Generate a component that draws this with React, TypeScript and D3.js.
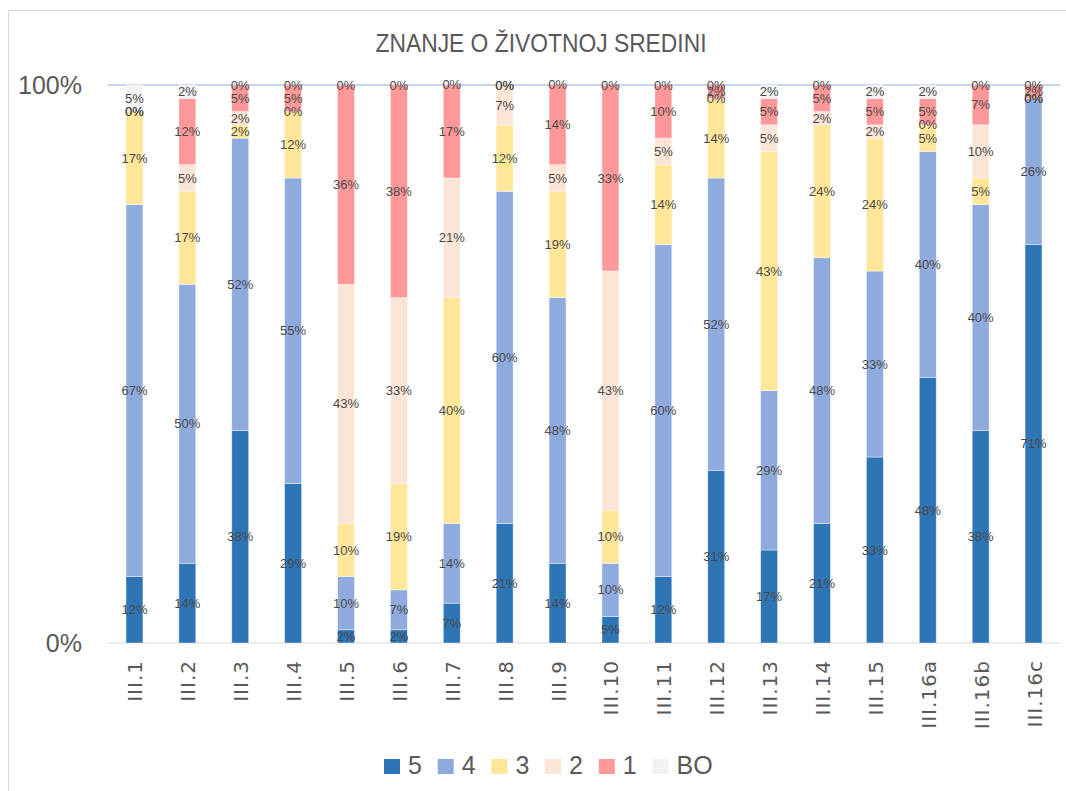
import React from 'react';
import * as d3 from 'd3';

// categories on the x axis
const categories = ['III.1', 'III.2', 'III.3', 'III.4', 'III.5', 'III.6', 'III.7', 'III.8', 'III.9',
  'III.10', 'III.11', 'III.12', 'III.13', 'III.14', 'III.15', 'III.16a', 'III.16b', 'III.16c'];

// share of answers per grade, in percent
const grade5 = [11.90, 14.29, 38.10, 28.57, 2.38, 2.38, 7.14, 21.43, 14.29, 4.76, 11.90, 30.95, 16.67, 21.43, 33.33, 47.62, 38.10, 71.43];
const grade4 = [66.67, 50.00, 52.38, 54.76, 9.52, 7.14, 14.29, 59.52, 47.62, 9.52, 59.52, 52.38, 28.57, 47.62, 33.33, 40.48, 40.48, 26.19];
const grade3 = [16.67, 16.67, 2.38, 11.90, 9.52, 19.05, 40.48, 11.90, 19.05, 9.52, 14.29, 14.29, 42.86, 23.81, 23.81, 4.76, 4.76, 0];
const grade2 = [0, 4.76, 2.38, 0, 42.86, 33.33, 21.43, 7.14, 4.76, 42.86, 4.76, 0, 4.76, 2.38, 2.38, 0, 9.52, 0];
const grade1 = [0, 11.90, 4.76, 4.76, 35.71, 38.10, 16.67, 0, 14.29, 33.33, 9.52, 2.38, 4.76, 4.76, 4.76, 4.76, 7.14, 2.38];
const gradeBO = [4.76, 2.38, 0, 0, 0, 0, 0, 0, 0, 0, 0, 0, 2.38, 0, 2.38, 2.38, 0, 0];

const seriesKeys = ['5', '4', '3', '2', '1', 'BO'];
const seriesValues = [grade5, grade4, grade3, grade2, grade1, gradeBO];
const colors = ['#2E75B6', '#8FAADC', '#FFE699', '#FBE5D6', '#FF9999', '#F2F2F2'];

const yTickLabels = ['0%', '100%'];

export default function App() {
  const W = 1066;
  const H = 791;
  const left = 108;
  const right = 1060;
  const top = 85;
  const bottom = 643;

  // table for d3.stack built from the arrays above
  const rows = categories.map((c, i) => {
    const row: any = { cat: c };
    seriesKeys.forEach((k, j) => { row[k] = seriesValues[j][i]; });
    return row;
  });
  const stacked = d3.stack().keys(seriesKeys)(rows);

  const x = d3.scaleBand()
    .domain(categories)
    .range([left, right])
    .paddingInner(0.68)
    .paddingOuter(0.34);

  const y = d3.scaleLinear().domain([0, 100]).range([bottom, top]);

  const font = 'Liberation Sans, Arial, sans-serif';

  return (
    <svg width={W} height={H} style={{ position: 'absolute', left: 0, top: 0, background: '#fff' }}>
      <rect x={8.5} y={10.5} width={1100} height={820} fill="#fff" stroke="#D9D9D9" />

      <text x={541} y={52} textAnchor="middle" fontFamily={font}
        fontSize={25} textLength={331} lengthAdjust="spacingAndGlyphs"
        fill="#595959">ZNANJE O ŽIVOTNOJ SREDINI</text>

      {/* axis lines */}
      <line x1={left} x2={right} y1={y(100)} y2={y(100)} stroke="#8FAADC" strokeWidth={1} />
      <line x1={left} x2={right} y1={y(0)} y2={y(0)} stroke="#D9D9D9" strokeWidth={1} />

      {yTickLabels.map((t) => (
        <text key={t} x={82} y={y(parseFloat(t)) + 9} textAnchor="end" fontFamily={font}
          fontSize={25} fill="#595959">{t}</text>
      ))}

      {stacked.map((s, j) => (
        <g key={s.key} fill={colors[j]}>
          {s.map((d, i) => (
            <rect key={i}
              x={x(categories[i])}
              y={y(d[1])}
              width={x.bandwidth()}
              height={y(d[0]) - y(d[1])}
              stroke="#fff" strokeOpacity={0.5} strokeWidth={0.8}
            />
          ))}
        </g>
      ))}

      {stacked.map((s, j) => (
        <g key={'l' + s.key}>
          {s.map((d, i) => (
            <text key={i}
              x={(x(categories[i]) as number) + x.bandwidth() / 2}
              y={y((d[0] + d[1]) / 2)}
              dy="0.35em"
              textAnchor="middle"
              fontFamily={font}
              fontSize={13}
              fill="#4a4a4a">
              {Math.round(d[1] - d[0]) + '%'}
            </text>
          ))}
        </g>
      ))}

      {categories.map((c) => (
        <text key={c}
          transform={`translate(${(x(c) as number) + x.bandwidth() / 2 + 8},${660}) rotate(-90)`}
          textAnchor="end"
          fontFamily="DejaVu Sans, sans-serif"
          fontSize={20}
          letterSpacing={1}
          fill="#595959">{c}</text>
      ))}

      {seriesKeys.map((k, j) => (
        <g key={'lg' + k} transform={`translate(${384 + j * 53.7},759)`}>
          <rect width={16} height={15} fill={colors[j]} />
          <text x={24} y={15} fontFamily={font} fontSize={25} fill="#595959">{k}</text>
        </g>
      ))}
    </svg>
  );
}
